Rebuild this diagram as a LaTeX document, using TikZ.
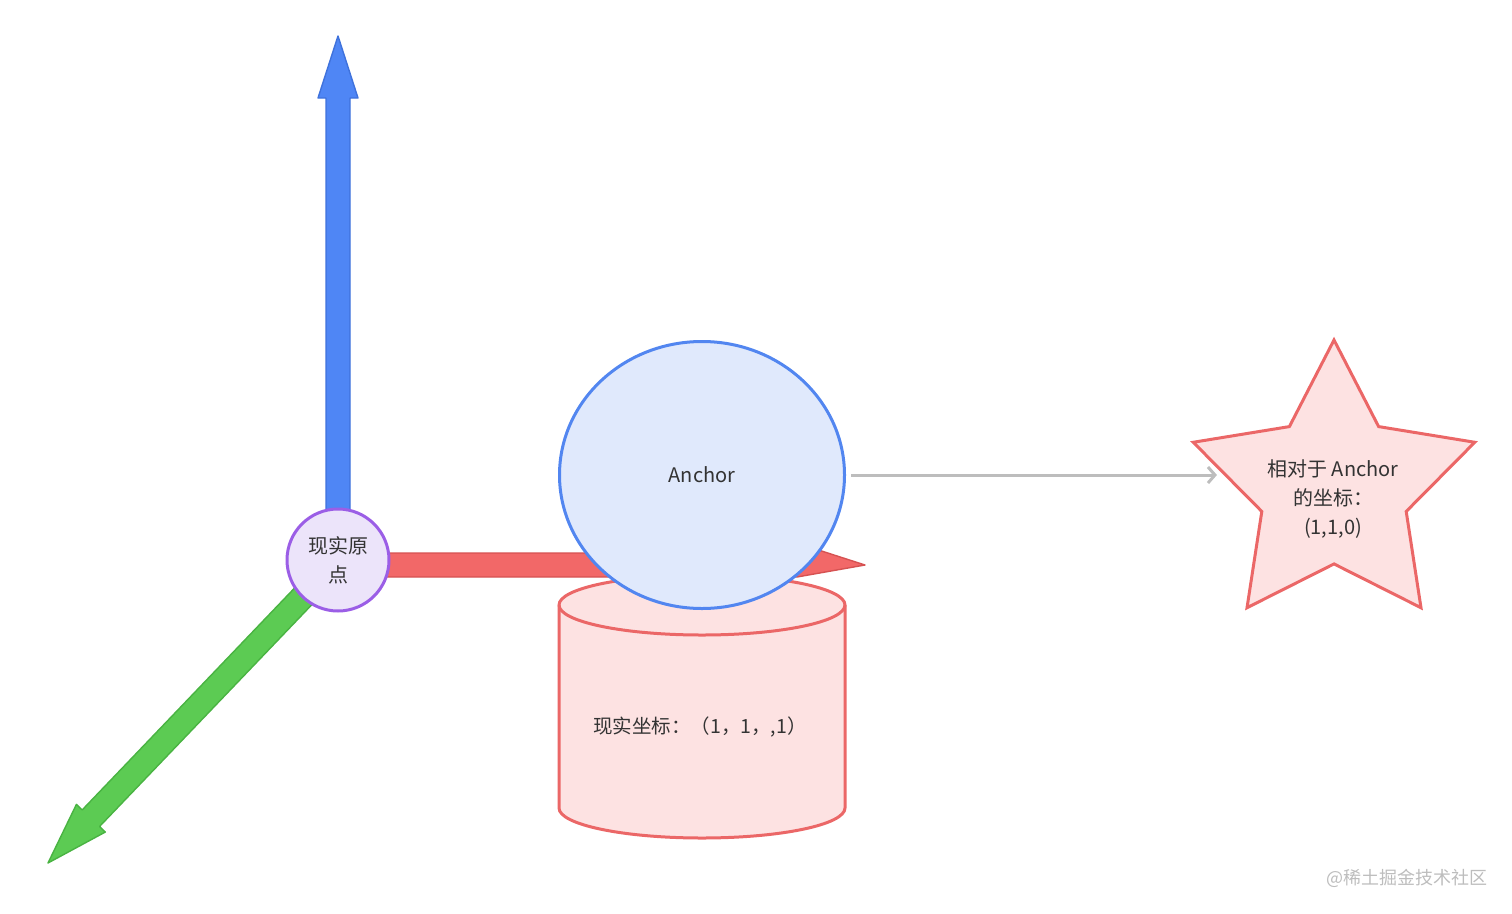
\documentclass[tikz,border=0pt]{standalone}
\usepackage{fontspec}
\setmainfont{Noto Sans CJK SC}
\usetikzlibrary{shapes.geometric,arrows.meta,calc}
\definecolor{txtc}{HTML}{333333}
\definecolor{bluef}{HTML}{4F86F5}
\definecolor{blued}{HTML}{3F72DC}
\definecolor{redf}{HTML}{F26868}
\definecolor{redd}{HTML}{D65252}
\definecolor{greenf}{HTML}{5CCB53}
\definecolor{greend}{HTML}{49B342}
\definecolor{purf}{HTML}{ECE4FA}
\definecolor{purd}{HTML}{9B5EE6}
\definecolor{ancf}{HTML}{E0E9FC}
\definecolor{ancd}{HTML}{5286F0}
\definecolor{pinkf}{HTML}{FDE2E2}
\definecolor{pinkd}{HTML}{EB6767}
\definecolor{grayc}{HTML}{BDBDBD}
\definecolor{wmc}{HTML}{BDBDBD}
\newcommand\axisarrow[4]{%
  \coordinate (ab) at ($(#2)!62pt!(#1)$);
  \filldraw[fill=#3, draw=#4, line width=1.4pt, line join=round]
    ($(#1)!12pt!90:(#2)$) -- ($(ab)!12pt!90:(#2)$) -- ($(ab)!20pt!90:(#2)$) -- (#2)
    -- ($(ab)!20pt!-90:(#2)$) -- ($(ab)!12pt!-90:(#2)$) -- ($(#1)!12pt!-90:(#2)$) -- cycle;
}
\begin{document}
\begin{tikzpicture}[x=1pt,y=-1pt,
  every node/.style={text=txtc, font=\fontsize{20}{29}\selectfont, align=center},
  origstyle/.style={circle, fill=purf, draw=purd, line width=3pt, minimum size=102pt, inner sep=0pt},
  ancstyle/.style={ellipse, fill=ancf, draw=ancd, line width=3pt, minimum width=285pt, minimum height=267pt, inner sep=0pt},
  pinkstyle/.style={fill=pinkf, draw=pinkd, line width=3pt, line join=round},
  starstyle/.style={star, star points=5, star point ratio=1.95, minimum size=296pt, inner sep=0pt, fill=pinkf, draw=pinkd, line width=3pt, line join=miter},
  conn/.style={draw=grayc, line width=3pt, -{Straight Barb[length=7pt, width=16pt, line width=3pt]}, shorten <=5pt, shorten >=6pt}
]
\useasboundingbox (0,0) rectangle (1512,913);

% axes
\coordinate (oc) at (338,560);
\coordinate (xs) at (338,565);
\coordinate (ytip) at (338,36);
\coordinate (xtip) at (865,565);
\coordinate (ztip) at (48,863);
\axisarrow{oc}{ytip}{bluef}{blued}
\axisarrow{oc}{ztip}{greenf}{greend}
\filldraw[fill=redf, draw=redd, line width=1.4pt, line join=round]
  ($(xs)+(0,-12)$) -- ($(xtip)+(-62,-12)$) -- ($(xtip)+(-62,-20)$) -- (xtip)
  -- ($(xtip)+(-68,12)$) -- ($(xs)+(0,12)$) -- cycle;

% cylinder
\path[pinkstyle] (559,605) -- (559,808) arc[start angle=180, end angle=0, x radius=143, y radius=30]
  -- (845,605) arc[start angle=0, end angle=-180, x radius=143, y radius=30] -- cycle;
\draw[pinkstyle, fill=none] (559,605) arc[start angle=180, end angle=0, x radius=143, y radius=30];
\node[font=\fontsize{19.5}{24}\selectfont] (cyl) at (700,727) {现实坐标：（1，1，,1）};

\node[origstyle] (o) at (338,560) {现实原\\点};
\node[ancstyle] (anc) at (702,475) {Anchor};

\node[starstyle] (st) at (1334,488) {};
\node (stt) at (1333,499) {相对于 Anchor\\的坐标：\\(1,1,0)};

\draw[conn] (anc.east) -- (st.173 |- anc.east);

\node[text=wmc, font=\fontsize{18}{20}\selectfont] (wm) at (1407,878) {@稀土掘金技术社区};
\end{tikzpicture}
\end{document}
